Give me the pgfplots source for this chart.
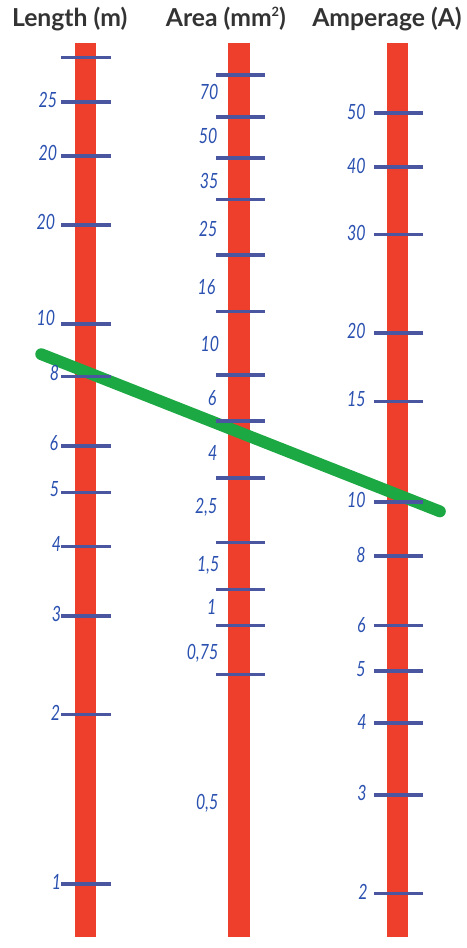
\documentclass[border=0pt]{standalone}
\usepackage{pgfplots}
\pgfplotsset{compat=1.18}
\usepackage{fontspec}
\setmainfont{Lato}
\definecolor{barred}{HTML}{EE3E2C}
\definecolor{tickblue}{HTML}{4A56A0}
\definecolor{labblue}{HTML}{2A50B0}
\definecolor{linegreen}{HTML}{1CA843}
\definecolor{titlegray}{HTML}{333333}
\newcommand{\hl}[1]{\scalebox{0.95}[1.25]{#1}}
\tikzset{
  lab/.style={font=\fontsize{17}{17}\selectfont\itshape, text=labblue, inner sep=0pt, anchor=east},
  ttl/.style={font=\fontsize{25}{26}\selectfont\bfseries, text=titlegray, inner sep=0pt, anchor=base},
}
\begin{document}
\begin{tikzpicture}
\begin{axis}[
  scale only axis, width=472pt, height=948pt,
  xmin=0, xmax=472, ymin=0, ymax=948, y dir=reverse,
  hide axis, clip=false,
]
\draw[draw=none] (rel axis cs:0,0) rectangle (rel axis cs:1,1);
% tick marks (horizontal strokes behind the bars)
\addplot[only marks, mark=-, mark size=25pt, mark options={line width=3.6pt, draw=tickblue}]
  coordinates {(87,58.3)(87,103.3)(87,157.7)(87,227.7)(87,327.7)(87,381)(87,451.3)(87,498.3)(87,552.7)(87,623.3)(87,722.7)(87,894.3)};
\addplot[only marks, mark=-, mark size=25pt, mark options={line width=3.6pt, draw=tickblue}]
  coordinates {(243,76)(243,118.3)(243,159.7)(243,202)(243,258)(243,315)(243,379.3)(243,426)(243,483.3)(243,548.7)(243,596.3)(243,632.7)(243,682.3)};
\addplot[only marks, mark=-, mark size=25pt, mark options={line width=3.6pt, draw=tickblue}]
  coordinates {(403,114.3)(403,169)(403,237.3)(403,336.7)(403,406)(403,507.7)(403,562.3)(403,632.7)(403,679)(403,731.3)(403,804)(403,903.7)};
% red scales
\addplot[barred, line width=21pt] coordinates {(86.5,43)(86.5,948)};
\addplot[barred, line width=22pt] coordinates {(242,43)(242,948)};
\addplot[barred, line width=22pt] coordinates {(402,43)(402,948)};
% reading line
\addplot[linegreen, line width=12pt, line cap=round] coordinates {(41.7,358.3)(445,517.3)};
% titles
\node[ttl] at (axis cs:70.5,26.5) {Length (m)};
\node[ttl] at (axis cs:228.5,26.5) {Area (mm\raisebox{0.4em}{\fontsize{13}{13}\selectfont 2})};
\node[ttl] at (axis cs:391.5,26.5) {Amperage (A)};
% length labels
\node[lab] at (axis cs:58,101) {\hl{25}};
\node[lab] at (axis cs:58,155) {\hl{20}};
\node[lab] at (axis cs:56,225) {\hl{20}};
\node[lab] at (axis cs:56,322) {\hl{10}};
\node[lab] at (axis cs:60,377) {\hl{8}};
\node[lab] at (axis cs:59,448) {\hl{6}};
\node[lab] at (axis cs:60,495) {\hl{5}};
\node[lab] at (axis cs:62,550) {\hl{4}};
\node[lab] at (axis cs:62,621) {\hl{3}};
\node[lab] at (axis cs:61,721) {\hl{2}};
\node[lab] at (axis cs:62,892) {\hl{1}};
% area labels
\node[lab] at (axis cs:221,92.7) {\hl{70}};
\node[lab] at (axis cs:220,138) {\hl{50}};
\node[lab] at (axis cs:221,183) {\hl{35}};
\node[lab] at (axis cs:220,232) {\hl{25}};
\node[lab] at (axis cs:218,290) {\hl{16}};
\node[lab] at (axis cs:222,348) {\hl{10}};
\node[lab] at (axis cs:219,402.7) {\hl{6}};
\node[lab] at (axis cs:220,458) {\hl{4}};
\node[lab] at (axis cs:220,513) {\hl{2,5}};
\node[lab] at (axis cs:222,571.7) {\hl{1,5}};
\node[lab] at (axis cs:219,614) {\hl{1}};
\node[lab] at (axis cs:221,660.7) {\hl{0,75}};
\node[lab] at (axis cs:221,813) {\hl{0,5}};
% amperage labels
\node[lab] at (axis cs:370,113) {\hl{50}};
\node[lab] at (axis cs:370,168) {\hl{40}};
\node[lab] at (axis cs:370,236) {\hl{30}};
\node[lab] at (axis cs:370,335) {\hl{20}};
\node[lab] at (axis cs:370,404) {\hl{15}};
\node[lab] at (axis cs:370,506) {\hl{10}};
\node[lab] at (axis cs:370,561) {\hl{8}};
\node[lab] at (axis cs:370,632) {\hl{6}};
\node[lab] at (axis cs:370,677) {\hl{5}};
\node[lab] at (axis cs:371,730) {\hl{4}};
\node[lab] at (axis cs:371,802) {\hl{3}};
\node[lab] at (axis cs:372,902) {\hl{2}};
\end{axis}
\end{tikzpicture}
\end{document}
